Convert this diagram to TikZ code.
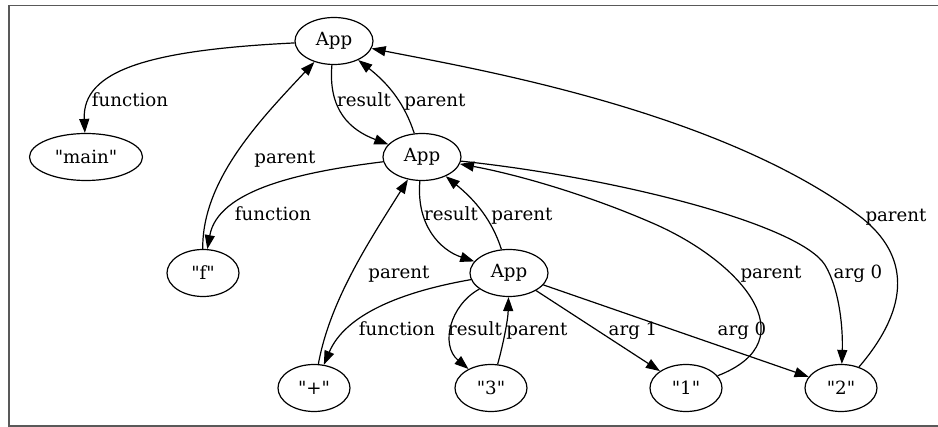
\documentclass[tikz,border=0pt]{standalone}
\usepackage{fontspec}
\setmainfont{DejaVu Serif}[Ligatures=TeXOff]
\usetikzlibrary{shapes.geometric,arrows.meta}
\begin{document}
\begin{tikzpicture}[x=0.5pt,y=-0.5pt,
 >={Triangle[length=7pt,width=5pt]},
 vertex/.style={draw,ellipse,line width=0.6pt,inner sep=0pt,minimum height=23.5pt,minimum width=36pt,font=\fontsize{9.1}{11}\selectfont},
 edge/.style={->,line width=0.6pt},
 lbl/.style={inner sep=0pt,font=\fontsize{9.1}{11}\selectfont,text height=1.5ex,text depth=0.3ex}]
 \useasboundingbox (0,0) rectangle (938,427);
 \draw[black!65,line width=0.6pt] (938,5.5) -- (9,5.5) -- (9,426) -- (938,426);
 % nodes
 \node[vertex,minimum width=39pt] (app1) at (334,41) {App};
 \node[vertex,minimum width=56.5pt] (main) at (86,157) {"main"};
 \node[vertex,minimum width=39pt] (app2) at (422,157) {App};
 \node[vertex] (f) at (203,273) {"f"};
 \node[vertex,minimum width=39pt] (app3) at (509,273) {App};
 \node[vertex] (plus) at (314,388) {"+"};
 \node[vertex] (three) at (491,388) {"3"};
 \node[vertex] (one) at (686,388) {"1"};
 \node[vertex] (two) at (841,388) {"2"};
 % edges
 \draw[edge] (app1) .. controls (150,50) and (82,70) .. (main);
 \draw[edge] (app1) .. controls (328,110) and (350,130) .. (app2);
 \draw[edge] (app2) .. controls (405,105) and (390,85) .. (app1);
 \draw[edge] (f) .. controls (202,180) and (260,120) .. (app1);
 \draw[edge] (app2) .. controls (300,172) and (218,190) .. (f);
 \draw[edge] (app2) .. controls (416,225) and (440,250) .. (app3);
 \draw[edge] (app3) .. controls (492,220) and (475,200) .. (app2);
 \draw[edge] (plus) .. controls (330,300) and (370,240) .. (app2);
 \draw[edge] (app3) .. controls (400,292) and (345,315) .. (plus);
 \draw[edge] (app3) .. controls (450,305) and (440,345) .. (three);
 \draw[edge] (three) .. controls (503,345) and (508,320) .. (app3);
 \draw[edge] (app3) -- (one);
 \draw[edge] (app3) -- (two);
 \draw[edge] (one) .. controls (810,340) and (740,260) .. (650,222) .. controls (590,196) and (520,175) .. (app2);
 \draw[edge] (app2) .. controls (620,178) and (800,225) .. (825,265) .. controls (840,290) and (843,330) .. (two);
 \draw[edge] (two) .. controls (912,305) and (908,255) .. (862,218) .. controls (720,110) and (470,68) .. (app1);
 % labels
 \node[lbl] (l1) at (130,100) {function};
 \node[lbl] (l2) at (364,100) {result};
 \node[lbl] (l3) at (435,100) {parent};
 \node[lbl] (l4) at (285,157) {parent};
 \node[lbl] (l5) at (273,214) {function};
 \node[lbl] (l6) at (451,214) {result};
 \node[lbl] (l7) at (522,214) {parent};
 \node[lbl] (l8) at (399,272) {parent};
 \node[lbl] (l9) at (397,329) {function};
 \node[lbl] (l10) at (475,329) {result};
 \node[lbl] (l11) at (537,329) {parent};
 \node[lbl] (l12) at (633,329) {arg 1};
 \node[lbl] (l13) at (742,329) {arg 0};
 \node[lbl] (l14) at (771,272) {parent};
 \node[lbl] (l15) at (858,272) {arg 0};
 \node[lbl] (l16) at (896,215) {parent};
\end{tikzpicture}
\end{document}
